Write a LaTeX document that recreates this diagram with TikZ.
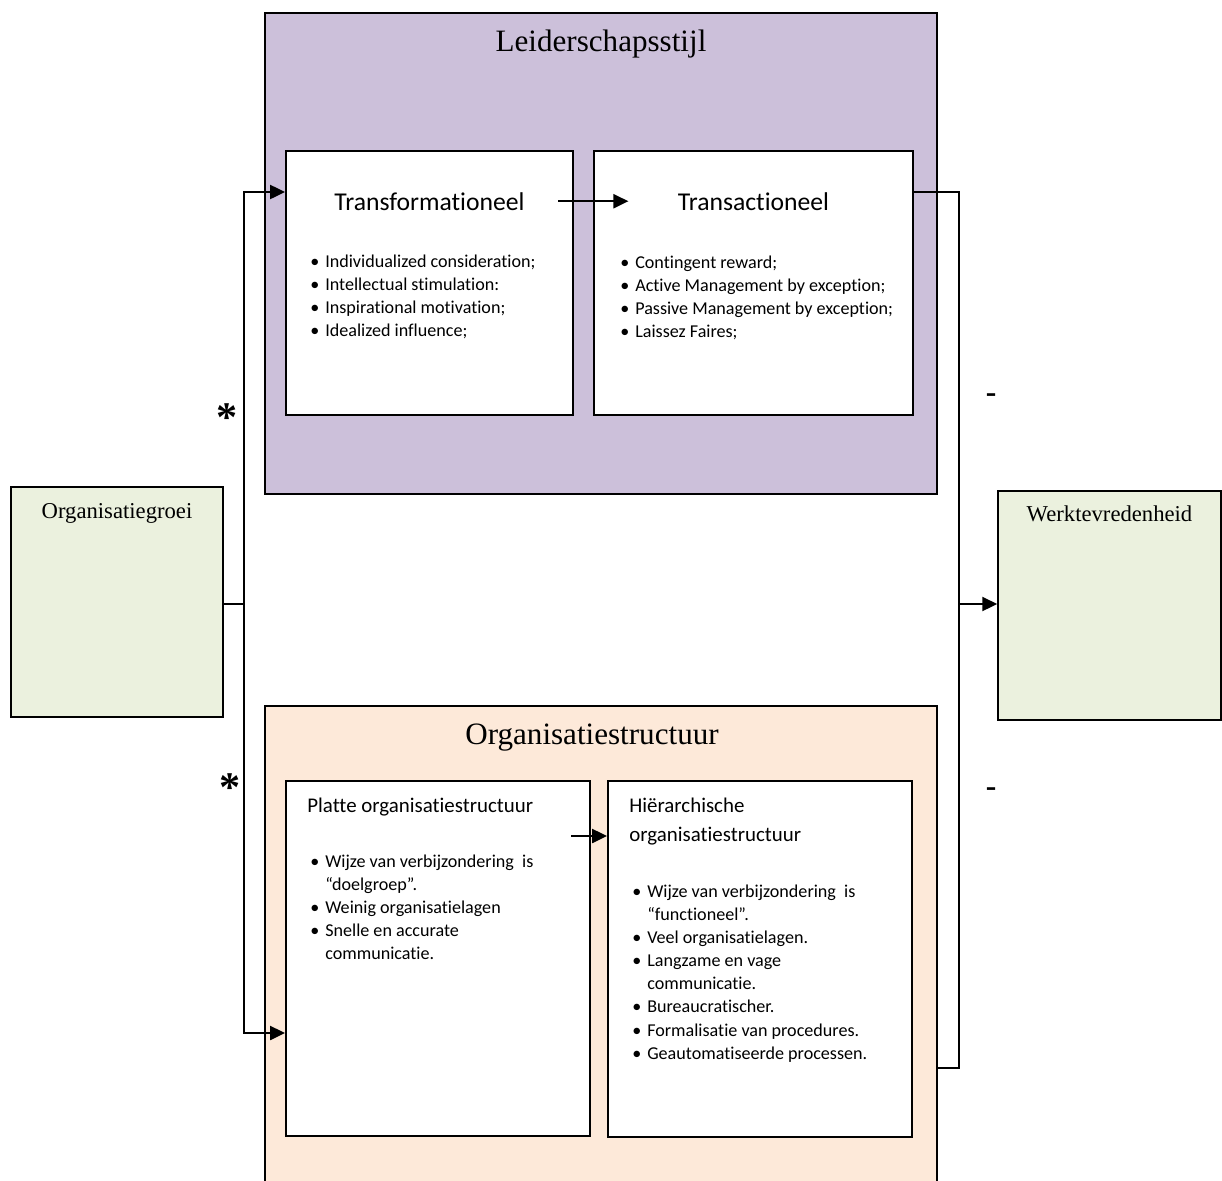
\documentclass[tikz,border=0pt]{standalone}
\usepackage{fontspec}
\setmainfont{Liberation Serif}
\newfontfamily\calibri{Carlito}[Ligatures={TeX,NoCommon}]
\usetikzlibrary{arrows.meta,calc,fit}

\definecolor{paars}{HTML}{CCC0DA}
\definecolor{perzik}{HTML}{FDE9D9}
\definecolor{groen}{HTML}{EBF1DE}

\newcommand{\punt}{\makebox[8.5pt][l]{\textbullet}}
\newcommand{\verder}{\hspace*{8.5pt}}

\tikzset{
  groep/.style={draw, line width=1.1pt, inner sep=0pt},
  kader/.style={draw, fill=white, line width=1.1pt, inner sep=0pt},
  variabele/.style={draw, fill=groen, line width=0.9pt, inner sep=0pt},
  kop/.style={font=\fontsize{17.7}{21}\selectfont, inner sep=0pt, anchor=base},
  varkop/.style={font=\fontsize{12.9}{15}\selectfont, inner sep=0pt, anchor=base},
  stijlkop/.style={font=\calibri\fontsize{14.6}{17}\selectfont, inner sep=0pt, anchor=base},
  vormkop/.style={font=\calibri\fontsize{11.9}{17}\selectfont, inner sep=0pt, anchor=base west},
  lijst/.style={font=\calibri\fontsize{10.3}{13.2}\selectfont, inner sep=0pt, anchor=base west},
  teken/.style={font=\bfseries\fontsize{24}{24}\selectfont, inner sep=0pt},
  streep/.style={font=\bfseries\fontsize{18}{18}\selectfont, inner sep=0pt},
  lijn/.style={line width=1.1pt},
  pijl/.style={lijn, -{Triangle[length=8.5pt, width=8pt]}},
  dubbelpijl/.style={lijn, {Triangle[length=8.5pt, width=8pt]}-{Triangle[length=8.5pt, width=8pt]}}
}

\begin{document}
\begin{tikzpicture}[x=0.02cm, y=-0.02cm]
\clip (0,0) rectangle (1222,1180);

%% groepen
\node[groep, fill=paars, fit={(265,13) (937,494)}] (leider) {};
\node[groep, fill=perzik, fit={(265,706) (937,1200)}] (structuur) {};
\node[kop] (leiderkop) at ($(leider.north)+(0,39)$) {Leiderschapsstijl};
\node[kop] (structuurkop) at ($(structuur.north)+(-9,39)$) {Organisatiestructuur};

%% variabelen
\node[variabele, fit={(11,487) (223,717)}] (groei) {};
\node[variabele, fit={(998,491) (1221,720)}] (werk) {};
\node[varkop] (groeikop) at ($(groei.north)+(0,32)$) {Organisatiegroei};
\node[varkop] (werkkop) at ($(werk.north)+(0,31)$) {Werktevredenheid};

%% leiderschapsstijlen
\node[kader, fit={(286,151) (573,415)}] (transf) {};
\node[kader, fit={(594,151) (913,415)}] (tact) {};
\node[stijlkop] (transfkop) at ($(transf.north)+(0,60)$) {Transformationeel};
\node[stijlkop] (tactkop) at ($(tact.north)+(0,60)$) {Transactioneel};
\node[lijst] (transflijst) at (310,267) {\begin{tabular}[t]{@{}l@{}}
\punt Individualized consideration;\\
\punt Intellectual stimulation:\\
\punt Inspirational motivation;\\
\punt Idealized influence;
\end{tabular}};
\node[lijst] (tactlijst) at (620,268) {\begin{tabular}[t]{@{}l@{}}
\punt Contingent reward;\\
\punt Active Management by exception;\\
\punt Passive Management by exception;\\
\punt Laissez Faires;
\end{tabular}};

%% structuren
\node[kader, fit={(286,781) (590,1136)}] (platte) {};
\node[kader, fit={(608,781) (912,1137)}] (hier) {};
\node[vormkop] (plattekop) at (307,812) {Platte organisatiestructuur};
\node[vormkop] (hierkop) at (629,812) {\begin{tabular}[t]{@{}l@{}}
Hiërarchische\\
organisatiestructuur
\end{tabular}};
\node[lijst] (plattelijst) at (310,867) {\begin{tabular}[t]{@{}l@{}}
\punt Wijze van verbijzondering\ \ is\\
\verder “doelgroep”.\\
\punt Weinig organisatielagen\\
\punt Snelle en accurate\\
\verder communicatie.
\end{tabular}};
\node[lijst] (hierlijst) at (632,897) {\begin{tabular}[t]{@{}l@{}}
\punt Wijze van verbijzondering\ \ is\\
\verder “functioneel”.\\
\punt Veel organisatielagen.\\
\punt Langzame en vage\\
\verder communicatie.\\
\punt Bureaucratischer.\\
\punt Formalisatie van procedures.\\
\punt Geautomatiseerde processen.
\end{tabular}};

%% verbindingen
\coordinate (lboven) at (244,192);
\coordinate (lmidden) at (244,604);
\coordinate (londer) at (244,1033);
\coordinate (rboven) at (959,192);
\coordinate (rmidden) at (959,604);
\coordinate (ronder) at (959,1068);
\coordinate (ppijl) at (571,836);

\draw[lijn] (groei.east |- lmidden) -- (lmidden);
\draw[dubbelpijl] (lboven -| transf.west) -- (lboven) -- (londer) -- (londer -| platte.west);
\draw[lijn] (tact.east |- rboven) -- (rboven) -- (ronder) -- (structuur.east |- ronder);
\draw[pijl] (rmidden) -- (werk.west |- rmidden);
\draw[pijl] ([xshift=19pt]transfkop.east) -- ([xshift=-28pt]tactkop.west);
\draw[pijl] (ppijl) -- (ppijl -| hier.west);

%% tekens
\node[teken] (ster1) at (227,418) {*};
\node[teken] (ster2) at (230,788) {*};
\node[streep] (min1) at (991,398) {-};
\node[streep] (min2) at (991,792) {-};

\end{tikzpicture}
\end{document}
